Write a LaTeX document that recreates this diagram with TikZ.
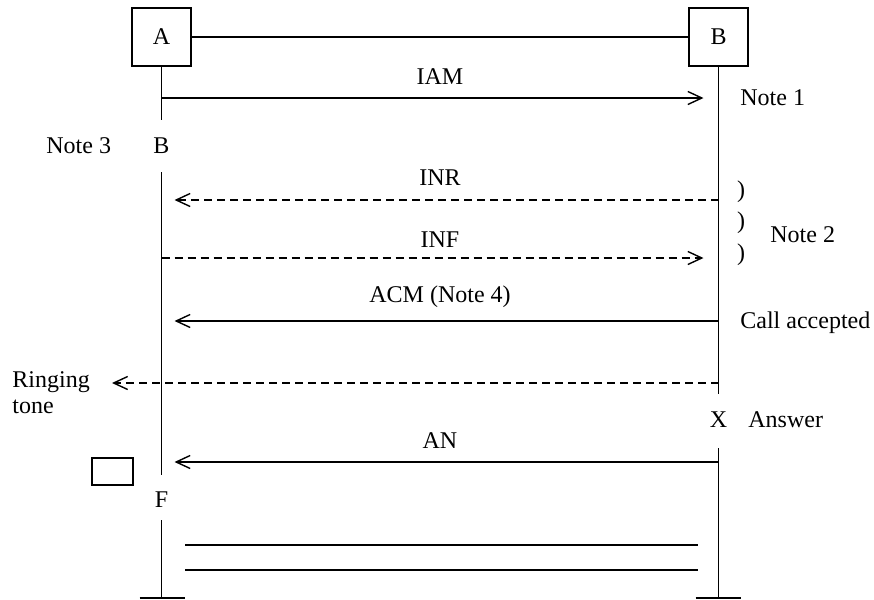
\documentclass[tikz,border=0pt]{standalone}
\usepackage{fontspec}
\setmainfont{Liberation Serif}
\usepackage{tikz}
\usetikzlibrary{arrows.meta}
\tikzset{
%Define standard arrow tip
>={Straight Barb[length=7pt,width=6.5pt,line width=0.7pt]},
%Define style for different line styles
signal line/.style={line width=0.9pt}, answer line/.style={signal line, dash pattern=on 4pt off 2.5pt},
station/.style={draw, signal line, minimum width=29.5pt, minimum height=29pt, inner sep=0pt},
msg label/.style={midway, anchor=base, inner sep=0pt}, }

\begin{document}
\begin{tikzpicture}[x=0.5pt,y=-0.5pt,font=\fontsize{12}{14}\selectfont]
\useasboundingbox (0,0) rectangle (874,600);

\node[station] (A) at (161.5,37) {A};
\node[station] (B) at (718.5,37) {B};
\draw[signal line] (A) -- (B);

% life lines with their breaks
\path coordinate (a1) at (161.5,120) coordinate (a2) at (161.5,172)
coordinate (a3) at (161.5,475) coordinate (a4) at (161.5,520)
coordinate (a5) at (161.5,598); \path coordinate (b1) at
(718.5,394) coordinate (b2) at (718.5,448) coordinate (b3) at
(718.5,598);
\draw[signal line] (A.south) -- (a1) (a2) -- (a3) (a4) -- (a5);
\draw[signal line] (B.south) -- (b1) (b2) -- (b3);
\draw[signal line] (a5) ++(-22,0) -- ++(45,0);
\draw[signal line] (b3) ++(-23,0) -- ++(45,0);

\node[anchor=base, inner sep=0pt] (busy) at (161.5,153) {B};
\node[anchor=base, inner sep=0pt] (free) at (161.5,507) {F};
\node[anchor=base, inner sep=0pt] (ans) at (718.5,427) {X};

% messages
\path coordinate (iam1) at (161.5,98) coordinate (iam2) at
(718.5,98) coordinate (inr1) at (161.5,200) coordinate (inr2) at
(718.5,200) coordinate (inf1) at (161.5,258) coordinate (inf2) at
(718.5,258) coordinate (acm1) at (161.5,321) coordinate (acm2) at
(718.5,321) coordinate (ring1) at (112,383) coordinate (ring2) at
(718.5,383) coordinate (an1) at (161.5,462) coordinate (an2) at
(718.5,462);

\draw[signal line, ->, shorten >=7.5pt] (iam1) -- (iam2)
node[msg label, yshift=7pt] {IAM};
\draw[answer line, ->, shorten >=6.5pt] (inr2) -- (inr1)
node[msg label, yshift=7.5pt] {INR};
\draw[answer line, ->, shorten >=7.5pt] (inf1) -- (inf2)
node[msg label, yshift=5.5pt] {INF};
\draw[signal line, ->, shorten >=6.5pt] (acm2) -- (acm1)
node[msg label, yshift=9.5pt] {ACM (Note 4)};
\draw[answer line, ->] (ring2) -- (ring1);
\draw[signal line, ->, shorten >=6.5pt] (an2) -- (an1)
node[msg label, yshift=7pt] {AN};

% notes
\node[anchor=base west, inner sep=0pt] (note1) at (740,105) {Note 1};
\node[anchor=base west, inner sep=0pt] (note3) at (46,153) {Note 3};
\node[anchor=base, inner sep=0pt] (p1) at (741,197.5) {)};
\node[anchor=base, inner sep=0pt] (p2) at (741,228) {)};
\node[anchor=base, inner sep=0pt] (p3) at (741,260) {)};
\node[anchor=base west, inner sep=0pt] (note2) at (770,242) {Note 2};
\node[anchor=base west, inner sep=0pt] (acc) at (740,328) {Call accepted};
\node[anchor=base west, inner sep=0pt] (ringing) at (12,387) {Ringing};
\node[anchor=base west, inner sep=0pt] (tone) at (12,413) {tone};
\node[anchor=base west, inner sep=0pt] (answer) at (748,427) {Answer};

\node[draw, signal line, minimum width=20.5pt, minimum height=13.5pt,
inner sep=0pt] (fbox) at (112.5,471.5) {};

\draw[signal line] (185,545) -- (698,545) (185,570) -- (698,570);
\end{tikzpicture}
\end{document}
